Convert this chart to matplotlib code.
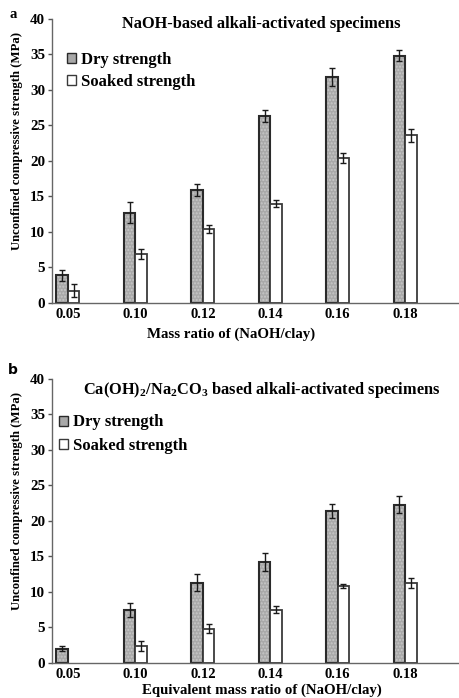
import numpy as np
import matplotlib
matplotlib.use('Agg')
from matplotlib import pyplot as plt
from matplotlib.patches import Patch

plt.rcParams['font.family'] = 'Liberation Serif'
plt.rcParams['font.weight'] = 'bold'
plt.rcParams['mathtext.fontset'] = 'custom'
plt.rcParams['mathtext.rm'] = 'Liberation Serif:bold'
plt.rcParams['mathtext.it'] = 'Liberation Serif:bold'
plt.rcParams['mathtext.bf'] = 'Liberation Serif:bold'

# data
ratios = ['0.05', '0.10', '0.12', '0.14', '0.16', '0.18']

naoh_dry = [3.9, 12.7, 15.9, 26.3, 31.8, 34.8]
naoh_dry_err = [0.8, 1.5, 0.8, 0.8, 1.3, 0.8]
naoh_soaked = [1.7, 6.9, 10.4, 14.0, 20.4, 23.6]
naoh_soaked_err = [0.9, 0.7, 0.6, 0.5, 0.7, 0.9]

caoh_dry = [2.0, 7.4, 11.3, 14.2, 21.4, 22.3]
caoh_dry_err = [0.4, 1.0, 1.2, 1.3, 1.0, 1.2]
caoh_soaked = [0.0, 2.3, 4.8, 7.5, 10.8, 11.3]
caoh_soaked_err = [0.0, 0.7, 0.6, 0.5, 0.3, 0.7]

fig = plt.figure(figsize=(4.6, 6.98), dpi=100)
ax1 = fig.add_axes([0.113, 0.566, 0.885, 0.407])
ax2 = fig.add_axes([0.113, 0.0505, 0.885, 0.4065])

x = np.arange(len(ratios))
w = 0.17


def panel(ax, dry, dry_err, soaked, soaked_err, title, title_y, xlabel, xlab_pos, xlab_y,
          leg_x, leg_y, leg_sp):
    # dry bars: gray with a fine dotted texture
    ax.bar(x - w / 2, dry, w, color='#a9a9a9', edgecolor='#c8c8c8', hatch='.....', linewidth=0)
    ax.bar(x - w / 2, dry, w, fill=False, edgecolor='#2a2a2a', linewidth=1.5)
    ax.errorbar(x - w / 2, dry, yerr=dry_err, fmt='none', ecolor='#1a1a1a', elinewidth=1, capsize=2)
    s = np.array(soaked)
    m = s > 0
    ax.bar(x[m] + w / 2, s[m], w, color='white', edgecolor='#3a3a3a', linewidth=1.3)
    ax.errorbar(x[m] + w / 2, s[m], yerr=np.array(soaked_err)[m], fmt='none', ecolor='#1a1a1a',
                elinewidth=1, capsize=2)

    ax.set_xlim(-0.237, 5.8)
    ax.set_ylim(0, 40)
    ax.set_yticks(range(0, 41, 5))
    ax.set_xticks(x)
    ax.set_xticklabels(ratios)
    ax.tick_params(axis='x', length=0, pad=4, labelsize=10.5)
    ax.tick_params(axis='y', length=3, width=1, color='#555555', labelsize=10.8, pad=2)
    for sp in ['top', 'right']:
        ax.spines[sp].set_visible(False)
    for sp in ['left', 'bottom']:
        ax.spines[sp].set_color('#666666')
        ax.spines[sp].set_linewidth(1)

    ax.set_ylabel('Unconfined compressive strength (MPa)', fontsize=9.2, fontweight='bold')
    ax.yaxis.set_label_coords(-0.071, 0.57)
    ax.set_xlabel(xlabel, fontsize=10.7, fontweight='bold')
    ax.xaxis.label.set_va('center')
    ax.xaxis.set_label_coords(xlab_pos, xlab_y)
    ax.text(0.515, title_y, title, transform=ax.transAxes, fontsize=11.8, fontweight='bold',
            ha='center', va='center')

    handles = [Patch(facecolor='#a8a8a8', edgecolor='#2a2a2a', linewidth=1),
               Patch(facecolor='white', edgecolor='#3a3a3a', linewidth=1)]
    ax.legend(handles, ['Dry strength', 'Soaked strength'], loc='upper left',
              bbox_to_anchor=(leg_x, leg_y), frameon=False, fontsize=12,
              handlelength=0.55, handleheight=0.55, handletextpad=0.3, labelspacing=leg_sp,
              borderpad=0, borderaxespad=0)


panel(ax1, naoh_dry, naoh_dry_err, naoh_soaked, naoh_soaked_err,
      'NaOH-based alkali-activated specimens', 0.981,
      'Mass ratio of (NaOH/clay)', 0.44, -0.11, 0.036, 0.884, 0.36)
panel(ax2, caoh_dry, caoh_dry_err, caoh_soaked, caoh_soaked_err,
      'Ca(OH)$_2$/Na$_2$CO$_3$ based alkali-activated specimens', 0.961,
      'Equivalent mass ratio of (NaOH/clay)', 0.515, -0.096, 0.017, 0.875, 0.46)

fig.text(13 / 460, 1 - 15 / 698, 'a', fontsize=10.5, fontweight='bold', ha='center', va='center')
fig.text(13 / 460, 1 - 370 / 698, 'b', fontsize=10, fontweight='bold', ha='center', va='center',
         family='DejaVu Sans')

plt.savefig('out.png', dpi=100)
